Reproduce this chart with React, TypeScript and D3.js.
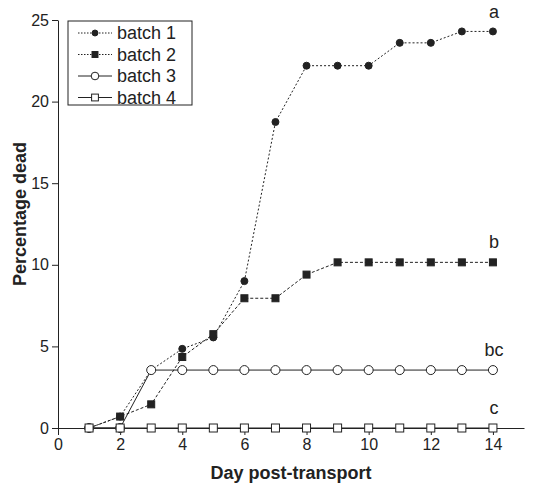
import React, { useEffect, useRef } from "react";
import * as d3 from "d3";

const days = [1, 2, 3, 4, 5, 6, 7, 8, 9, 10, 11, 12, 13, 14];
const batch1 = [0, 0.7, 3.55, 4.85, 5.55, 9.0, 18.75, 22.2, 22.2, 22.2, 23.6, 23.6, 24.3, 24.3];
const batch2 = [0, 0.7, 1.45, 4.35, 5.75, 7.95, 7.95, 9.4, 10.15, 10.15, 10.15, 10.15, 10.15, 10.15];
const batch3 = [0, 0, 3.55, 3.55, 3.55, 3.55, 3.55, 3.55, 3.55, 3.55, 3.55, 3.55, 3.55, 3.55];
const batch4 = [0, 0, 0, 0, 0, 0, 0, 0, 0, 0, 0, 0, 0, 0];
const seriesNames = ["batch 1", "batch 2", "batch 3", "batch 4"];
const endLetters = ["a", "b", "bc", "c"];
const xTicks = [0, 2, 4, 6, 8, 10, 12, 14];
const yTicks = [0, 5, 10, 15, 20, 25];

const INK = "#222";

const App = () => {
  const svgRef = useRef<SVGSVGElement>(null);

  useEffect(() => {
    const svg = d3.select(svgRef.current);
    svg.selectAll("*").remove();

    const margin = { top: 20, right: 14, bottom: 55, left: 58 };
    const W = 538, H = 483;
    const w = W - margin.left - margin.right;
    const h = H - margin.top - margin.bottom;
    const font = "'Liberation Sans', Arial, sans-serif";

    const x = d3.scaleLinear().domain([0, 15]).range([0, w]);
    const y = d3.scaleLinear().domain([0, 25]).range([h, 0]);

    const g = svg.append("g").attr("transform", `translate(${margin.left},${margin.top})`);

    // axes
    const xAxis = g.append("g")
      .attr("transform", `translate(0,${h})`)
      .call(d3.axisBottom(x).tickValues(xTicks).tickSize(7).tickSizeOuter(0).tickPadding(4));
    const yAxis = g.append("g")
      .call(d3.axisLeft(y).tickValues(yTicks).tickSize(6).tickSizeOuter(0).tickPadding(3));
    [xAxis, yAxis].forEach(a => {
      a.selectAll("path").attr("stroke", INK);
      a.selectAll("line").attr("stroke", INK);
      a.selectAll("text").attr("fill", INK).style("font-family", font).style("font-size", "16px");
    });

    g.append("text")
      .attr("x", w / 2)
      .attr("y", h + 51)
      .attr("text-anchor", "middle")
      .style("font-family", font).style("font-size", "18px").style("font-weight", "bold")
      .attr("fill", INK)
      .text("Day post-transport");

    g.append("text")
      .attr("transform", "rotate(-90)")
      .attr("x", -h / 2 + 10)
      .attr("y", -32)
      .attr("text-anchor", "middle")
      .style("font-family", font).style("font-size", "18px").style("font-weight", "bold")
      .attr("fill", INK)
      .text("Percentage dead");

    const series = [
      { name: seriesNames[0], values: batch1, dash: "2,2", marker: "circle", fill: INK },
      { name: seriesNames[1], values: batch2, dash: "3,2", marker: "square", fill: INK },
      { name: seriesNames[2], values: batch3, dash: null, marker: "circle", fill: "#fff" },
      { name: seriesNames[3], values: batch4, dash: null, marker: "square", fill: "#fff" },
    ];

    const line = d3.line<number>().x((d, i) => x(days[i])).y(d => y(d));

    const drawMarker = (sel: any, s: any, cx: number, cy: number, scale = 1) => {
      if (s.marker === "circle") {
        sel.append("circle")
          .attr("cx", cx).attr("cy", cy)
          .attr("r", (s.fill === "#fff" ? 4.5 : 3.5) * scale)
          .attr("fill", s.fill).attr("stroke", INK).attr("stroke-width", 1);
      } else {
        const sz = (s.fill === "#fff" ? 8 : 7) * scale;
        sel.append("rect")
          .attr("x", cx - sz / 2).attr("y", cy - sz / 2)
          .attr("width", sz).attr("height", sz)
          .attr("fill", s.fill).attr("stroke", INK).attr("stroke-width", 1);
      }
    };

    series.forEach(s => {
      g.append("path")
        .datum(s.values)
        .attr("d", line)
        .attr("fill", "none")
        .attr("stroke", INK)
        .attr("stroke-width", 1)
        .attr("stroke-dasharray", s.dash);
    });
    // open markers drawn last, as in the original
    series.forEach(s => {
      const mg = g.append("g");
      s.values.forEach((v, i) => drawMarker(mg, s, x(days[i]), y(v)));
    });

    // end letters
    series.forEach((s, i) => {
      const last = s.values[s.values.length - 1];
      g.append("text")
        .attr("x", x(14) + 1)
        .attr("y", y(last) - (i === 0 ? 13 : 14))
        .attr("text-anchor", "middle")
        .style("font-family", font).style("font-size", "18px")
        .attr("fill", INK)
        .text(endLetters[i]);
    });

    // legend
    const lg = svg.append("g").attr("transform", "translate(68,21)");
    lg.append("rect")
      .attr("width", 124).attr("height", 84)
      .attr("fill", "#fff").attr("stroke", INK).attr("stroke-width", 1);
    series.forEach((s, i) => {
      const ly = 12 + i * 21.5;
      lg.append("line")
        .attr("x1", 10).attr("x2", 44).attr("y1", ly).attr("y2", ly)
        .attr("stroke", INK).attr("stroke-width", 1)
        .attr("stroke-dasharray", s.dash ? "1.5,1.5" : null);
      drawMarker(lg, s, 27, ly, 0.85);
      lg.append("text")
        .attr("x", 49).attr("y", ly + 6)
        .style("font-family", font).style("font-size", "18px")
        .attr("fill", INK)
        .text(s.name);
    });
  }, []);

  return <svg ref={svgRef} width={538} height={483} style={{ position: "absolute", left: 0, top: 0 }} />;
};

export default App;
